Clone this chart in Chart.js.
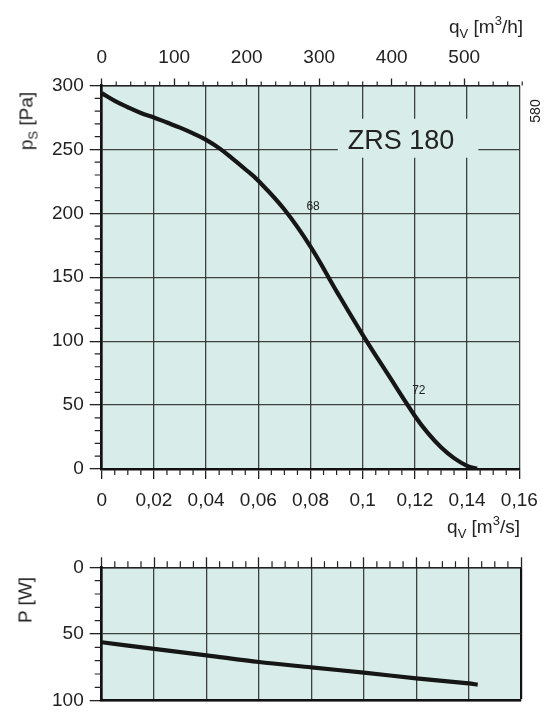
<!DOCTYPE html>
<html><head><meta charset="utf-8">
<script src="https://cdn.jsdelivr.net/npm/chart.js@4/dist/chart.umd.min.js"></script>
<style>
html,body{margin:0;padding:0;background:#fff;}
#wrap{position:relative;width:546px;height:713px;overflow:hidden;font-family:"Liberation Sans",Arial,sans-serif;color:#222;}
canvas{position:absolute;left:0;}
.lbl{position:absolute;font-size:19px;line-height:19px;white-space:nowrap;}
.lbl sub{font-size:13px;vertical-align:-5px;line-height:0;}
.lbl sup{font-size:13px;vertical-align:8px;line-height:0;}
.rot{transform:translate(-50%,-50%) rotate(-90deg);}
</style></head>
<body><div id="wrap">
<canvas id="topChart" width="546" height="550" style="top:0;width:546px;height:550px"></canvas>
<canvas id="botChart" width="546" height="163" style="top:550px;width:546px;height:163px"></canvas>
<div class="lbl rot" style="left:26px;top:121px;">p<sub>S</sub> [Pa]</div>
<div class="lbl rot" style="left:25px;top:600px;">P [W]</div>
<div class="lbl" style="right:23px;top:17px;">q<sub>V</sub> [m<sup>3</sup>/h]</div>
<div class="lbl" style="right:26px;top:517px;">q<sub>V</sub> [m<sup>3</sup>/s]</div>
<div class="lbl rot" style="left:535px;top:111px;font-size:14px;line-height:14px;">580</div>
</div>
<script>
// ---- data ----
const qTicks = [0, 0.02, 0.04, 0.06, 0.08, 0.10, 0.12, 0.14, 0.16];
const qTickLabels = ['0', '0,02', '0,04', '0,06', '0,08', '0,1', '0,12', '0,14', '0,16'];
const hTicks = [0, 100, 200, 300, 400, 500];
const hTickLabels = ['0', '100', '200', '300', '400', '500'];
const psTicks = [0, 50, 100, 150, 200, 250, 300];
const pwTicks = [0, 50, 100];

const flowQ = [0, 0.005, 0.01, 0.015, 0.02, 0.025, 0.03, 0.035, 0.04, 0.045, 0.05, 0.055, 0.06,
               0.07, 0.08, 0.09, 0.10, 0.11, 0.12, 0.125, 0.13, 0.135, 0.14, 0.1438];
const pressurePa = [294, 288, 283, 278.5, 275, 271, 267, 262.5, 257.5, 251, 243, 234.5, 225.5,
                    203, 174, 139, 105, 73, 41.5, 28, 17, 8.5, 2.5, 0.3];
const powerQ = [0, 0.02, 0.04, 0.06, 0.08, 0.10, 0.12, 0.14, 0.1435];
const powerW = [56.2, 61.2, 66, 71, 75, 79, 83.2, 87, 88];

const curveLabels = [{text: '68', q: 0.081, p: 205}, {text: '72', q: 0.1215, p: 61}];
const modelName = 'ZRS 180';
const modelPos = {q: 0.1147, p: 256};

// ---- styles ----
const BG = 'rgb(216,237,233)';
const INK = '#222';
const GRID = 'rgba(45,45,45,0.9)';
const FONT = "'Liberation Sans', Arial, sans-serif";
Chart.defaults.font.family = FONT;
Chart.defaults.font.size = 19;
Chart.defaults.color = INK;

const pts = (xs, ys) => xs.map((x, i) => ({x, y: ys[i]}));
const setTicks = vals => s => { s.ticks = vals.map(v => ({value: v})); };
const fitTo = (prop, size) => s => {
  s[prop] = size;
  s.paddingTop = 0; s.paddingBottom = 0; s.paddingLeft = 0; s.paddingRight = 0;
};

const bgPlugin = {
  id: 'bgFill',
  beforeDraw(chart) {
    const a = chart.chartArea, c = chart.ctx;
    c.save(); c.fillStyle = BG; c.fillRect(a.left, a.top, a.right - a.left, a.bottom - a.top); c.restore();
  }
};

const minorPlugin = {
  id: 'minorTicks',
  afterDraw(chart, args, opts) {
    const c = chart.ctx, a = chart.chartArea;
    (opts.list || []).forEach(m => {
      const s = chart.scales[m.axis];
      const n = Math.round((s.max - s.min) / m.step);
      c.save(); c.strokeStyle = INK; c.lineWidth = 1.2; c.beginPath();
      for (let i = 0; i <= n; i++) {
        const v = s.min + i * m.step;
        if (Math.abs(v / m.major - Math.round(v / m.major)) < 1e-6) continue;
        const p = s.getPixelForValue(v);
        if (m.side === 'bottom') { c.moveTo(p, a.bottom); c.lineTo(p, a.bottom + m.len); }
        else if (m.side === 'top') { c.moveTo(p, a.top); c.lineTo(p, a.top - m.len); }
        else if (m.side === 'left') { c.moveTo(a.left, p); c.lineTo(a.left - m.len, p); }
      }
      c.stroke(); c.restore();
    });
  }
};

const textPlugin = {
  id: 'annot',
  beforeDatasetsDraw(chart, args, opts) {
    if (!opts.model) return;
    const c = chart.ctx, x = chart.scales.x, y = chart.scales.y;
    const px = x.getPixelForValue(opts.model.q), py = y.getPixelForValue(opts.model.p);
    c.save();
    c.font = '27px ' + FONT;
    const w = c.measureText(opts.model.text).width;
    c.fillStyle = BG;
    c.fillRect(px - w / 2 - 10, py - 23, w + 34, 39);
    c.fillStyle = INK; c.textAlign = 'center'; c.textBaseline = 'middle';
    c.fillText(opts.model.text, px, py);
    c.restore();
  },
  afterDatasetsDraw(chart, args, opts) {
    const c = chart.ctx, x = chart.scales.x, y = chart.scales.y;
    c.save(); c.font = '12px ' + FONT; c.fillStyle = INK; c.textAlign = 'center'; c.textBaseline = 'middle';
    (opts.labels || []).forEach(l => c.fillText(l.text, x.getPixelForValue(l.q), y.getPixelForValue(l.p)));
    c.restore();
  }
};

// ---- top chart ----
new Chart(document.getElementById('topChart'), {
  type: 'line',
  data: {datasets: [{
    data: pts(flowQ, pressurePa), borderColor: '#161616', borderWidth: 4.2,
    pointRadius: 0, tension: 0.4, fill: false
  }]},
  options: {
    responsive: false, animation: false, events: [],
    layout: {padding: {left: 0, right: 26.7, top: 0, bottom: 0}},
    plugins: {
      legend: {display: false}, tooltip: {enabled: false},
      minorTicks: {list: [
        {axis: 'x', side: 'bottom', step: 0.005, major: 0.02, len: 6},
        {axis: 'x2', side: 'top', step: 20, major: 100, len: 4},
        {axis: 'y', side: 'left', step: 10, major: 50, len: 7}
      ]},
      annot: {model: {text: modelName, q: modelPos.q, p: modelPos.p}, labels: curveLabels}
    },
    scales: {
      x: {
        type: 'linear', position: 'bottom', min: 0, max: 0.16,
        afterBuildTicks: setTicks(qTicks),
        afterFit: fitTo('height', 81),
        ticks: {padding: 10, maxRotation: 0, autoSkip: false, callback: (v, i) => qTickLabels[i]},
        grid: {color: GRID, lineWidth: 1.3, drawTicks: true, tickLength: 10, tickColor: INK, tickWidth: 1.3},
        border: {display: true, color: '#111', width: 2.6}
      },
      x2: {
        type: 'linear', position: 'top', min: 0, max: 576,
        afterBuildTicks: setTicks(hTicks),
        afterFit: fitTo('height', 85.5),
        ticks: {padding: 9, maxRotation: 0, autoSkip: false, callback: (v, i) => hTickLabels[i]},
        grid: {drawOnChartArea: false, drawTicks: true, tickLength: 7, tickColor: INK, tickWidth: 1.3},
        border: {display: true, color: INK, width: 1.4}
      },
      y: {
        type: 'linear', position: 'left', min: 0, max: 300,
        afterBuildTicks: setTicks(psTicks),
        afterFit: fitTo('width', 101.7),
        ticks: {padding: 6, autoSkip: false},
        grid: {color: GRID, lineWidth: 1.3, drawTicks: true, tickLength: 12, tickColor: INK, tickWidth: 1.3},
        border: {display: true, color: '#111', width: 2.6}
      }
    }
  },
  plugins: [bgPlugin, minorPlugin, textPlugin]
});

// ---- bottom chart ----
new Chart(document.getElementById('botChart'), {
  type: 'line',
  data: {datasets: [{
    data: pts(powerQ, powerW), borderColor: '#161616', borderWidth: 4.2,
    pointRadius: 0, tension: 0.3, fill: false
  }]},
  options: {
    responsive: false, animation: false, events: [],
    layout: {padding: {left: 0, right: 25, top: 0, bottom: 0}, autoPadding: false},
    plugins: {
      legend: {display: false}, tooltip: {enabled: false},
      minorTicks: {list: [
        {axis: 'x2', side: 'top', step: 0.005, major: 0.02, len: 6},
        {axis: 'y', side: 'left', step: 10, major: 50, len: 7}
      ]}
    },
    scales: {
      x: {
        type: 'linear', position: 'bottom', min: 0, max: 0.16,
        afterBuildTicks: setTicks(qTicks),
        afterFit: fitTo('height', 12.3),
        ticks: {display: false},
        grid: {color: ctx => ctx.index === qTicks.length - 1 ? '#111' : GRID,
               lineWidth: ctx => ctx.index === qTicks.length - 1 ? 2.2 : 1.3, drawTicks: false},
        border: {display: true, color: '#111', width: 2.6}
      },
      x2: {
        type: 'linear', position: 'top', min: 0, max: 0.16,
        afterBuildTicks: setTicks(qTicks),
        afterFit: fitTo('height', 17.3),
        ticks: {display: false},
        grid: {drawOnChartArea: false, drawTicks: true, tickLength: 10, tickColor: INK, tickWidth: 1.3},
        border: {display: true, color: INK, width: 1.4}
      },
      y: {
        type: 'linear', position: 'left', min: 0, max: 100, reverse: true,
        afterBuildTicks: setTicks(pwTicks),
        afterFit: fitTo('width', 101.7),
        ticks: {padding: 6, autoSkip: false},
        grid: {color: GRID, lineWidth: 1.3, drawTicks: true, tickLength: 12, tickColor: INK, tickWidth: 1.3},
        border: {display: true, color: '#111', width: 2.6}
      }
    }
  },
  plugins: [bgPlugin, minorPlugin]
});
</script>
</body></html>
